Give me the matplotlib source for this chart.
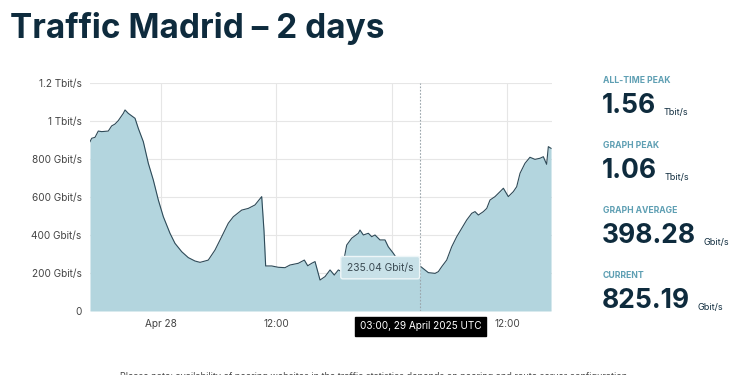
import numpy as np
import pandas as pd
import matplotlib
matplotlib.use('Agg')
import matplotlib.pyplot as plt

# traffic: hours after 27 Apr 16:40 UTC, Gbit/s
hours = [0.0, 0.18, 0.52, 0.86, 1.22, 1.90, 2.25, 2.60, 2.94, 3.46, 3.64, 3.98,
         4.68, 5.02, 5.54, 6.06, 6.58, 7.10, 7.62, 8.31, 8.83, 9.53, 10.21, 10.91,
         11.43, 11.95, 12.29, 12.99, 13.68, 14.37, 14.89, 15.76, 16.45, 17.14, 17.84,
         18.08, 18.25, 18.88, 19.56, 20.26, 20.78, 21.64, 22.27, 22.62, 23.03, 23.38,
         23.90, 24.42, 24.94, 25.38, 25.80, 26.15, 26.67, 27.19, 27.88, 28.05, 28.40,
         28.92, 29.27, 29.61, 30.13, 30.65, 30.99, 31.51, 31.87, 32.52, 33.25, 33.87,
         34.33, 35.15, 35.85, 36.19, 36.54, 37.06, 37.58, 38.10, 38.62, 39.14, 39.66,
         40.00, 40.35, 40.87, 41.22, 41.56, 42.08, 42.60, 42.95, 43.46, 43.98, 44.33,
         44.68, 45.19, 45.71, 46.23, 46.76, 47.10, 47.44, 47.62, 47.90]
gbit = [891, 909, 914, 947, 944, 947, 974, 984, 1002, 1040, 1058, 1040,
        1014, 961, 891, 777, 689, 584, 496, 409, 356, 312, 281, 263,
        256, 263, 268, 321, 391, 462, 496, 531, 540, 558, 602,
        420, 237, 237, 230, 228, 242, 251, 268, 238, 251, 260,
        163, 181, 216, 189, 216, 207, 347, 383, 409, 426, 400,
        409, 391, 400, 374, 374, 338, 304, 277, 255, 245, 240,
        235, 202, 198, 207, 233, 268, 338, 391, 435, 479, 514,
        523, 505, 523, 540, 584, 602, 628, 646, 602, 628, 654,
        725, 777, 809, 798, 804, 812, 772, 865, 856]

start = pd.Timestamp('2025-04-27 16:40')
times = start + pd.to_timedelta(hours, unit='h')

tick_times = pd.to_datetime(['2025-04-28 00:00', '2025-04-28 12:00',
                             '2025-04-29 00:00', '2025-04-29 12:00'])
tick_labels = ['Apr 28', '12:00', '', '12:00']   # Apr 29 label sits under the hover box
y_ticks = [0, 200, 400, 600, 800, 1000, 1200]
y_labels = ['0', '200 Gbit/s', '400 Gbit/s', '600 Gbit/s', '800 Gbit/s',
            '1 Tbit/s', '1.2 Tbit/s']

hover_time = pd.Timestamp('2025-04-29 03:00')
hover_value = 235.04

stats = [('ALL-TIME PEAK', '1.56', 'Tbit/s'),
         ('GRAPH PEAK', '1.06', 'Tbit/s'),
         ('GRAPH AVERAGE', '398.28', 'Gbit/s'),
         ('CURRENT', '825.19', 'Gbit/s')]

plt.rcParams['font.family'] = ['Inter', 'DejaVu Sans']
navy = '#0e2b3d'

fig = plt.figure(figsize=(7.5, 3.75), dpi=100)
ax = fig.add_axes([0.12, 0.1707, 0.616, 0.608])

ax.fill_between(times, gbit, 0, color='#b3d5de', linewidth=0)
ax.plot(times, gbit, color='#2e4a58', linewidth=0.8)

ax.set_xlim(start, start + pd.Timedelta(hours=48))
ax.set_ylim(0, 1200)
ax.set_xticks(tick_times)
ax.set_xticklabels(tick_labels)
ax.set_yticks(y_ticks)
ax.set_yticklabels(y_labels)
ax.tick_params(length=0, labelsize=7.2, colors='#444444', pad=6)
ax.grid(color='#e6e6e6', linewidth=0.8)
ax.set_axisbelow(True)
for s in ax.spines.values():
    s.set_visible(False)
ax.axhline(0, color='#d8d8d8', linewidth=0.8, zorder=0)

# hover marker
ax.axvline(hover_time, color='#9aa5ab', linewidth=0.8, linestyle=(0, (1.5, 1.5)), zorder=3)
ax.annotate(f'{hover_value:.2f} Gbit/s', xy=(hover_time, 0.19), xycoords=('data', 'axes fraction'),
            xytext=(-29, 0), textcoords='offset points', ha='center', va='center',
            fontsize=7.4, color='#3a4a52', zorder=6,
            bbox=dict(boxstyle='round,pad=0.6,rounding_size=0.2', fc='#c8e1e8', ec='#eef6f8', lw=1))
ax.annotate('03:00, 29 April 2025 UTC', xy=(hover_time, 0), xycoords=('data', 'axes fraction'),
            xytext=(0, -11), textcoords='offset points', ha='center', va='center',
            fontsize=7.2, color='white', zorder=7, annotation_clip=False,
            bbox=dict(boxstyle='square,pad=0.45', fc='black', ec='black'))

fig.text(0.013, 0.925, 'Traffic Madrid \u2013 2 days', fontsize=24, fontweight='bold',
         color=navy, va='center', ha='left')

y0 = 0.785
for i, (lab, val, unit) in enumerate(stats):
    yy = y0 - i * 0.173
    fig.text(0.804, yy, lab, fontsize=6.2, color='#5e9fb3', fontweight='bold', va='center')
    t = fig.text(0.802, yy - 0.068, val, fontsize=19, color=navy, fontweight='bold', va='center')
    fig.canvas.draw()
    bb = t.get_window_extent()
    fig.text(bb.x1 / 750 + 0.01, yy - 0.085, unit, fontsize=6.5, color=navy, va='center')

fig.text(0.5, -0.005, 'Please note: availability of peering websites in the traffic statistics depends on peering and route server configuration.',
         fontsize=6.5, color='#444444', ha='center', va='center')

fig.savefig('out.png', dpi=100)
